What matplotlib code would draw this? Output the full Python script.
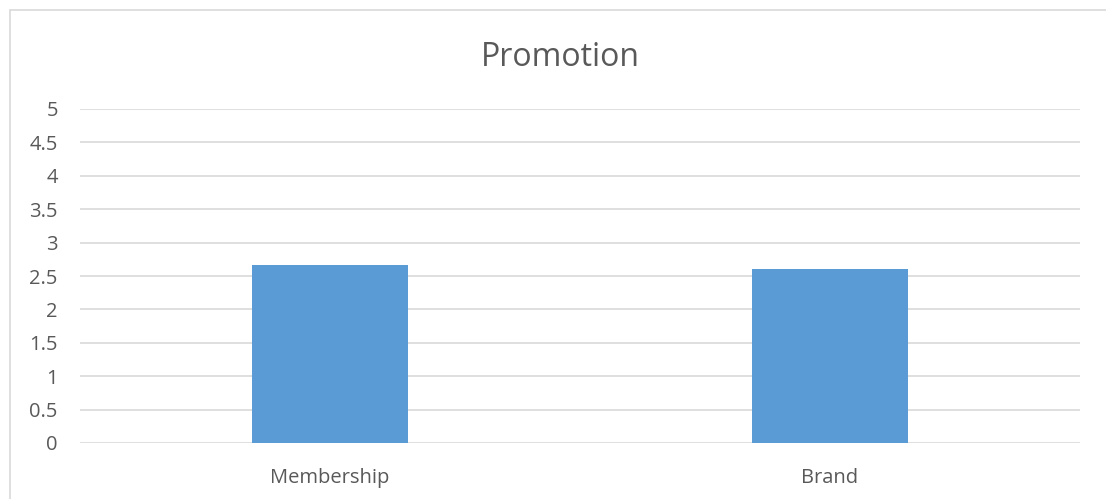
import matplotlib

matplotlib.use("Agg")
import matplotlib.pyplot as plt
from matplotlib.patches import Rectangle

categories = ["Membership", "Brand"]
values = [2.66, 2.60]
title = "Promotion"

W, H = 1106, 499
fig = plt.figure(figsize=(W / 100, H / 100), dpi=100)
plt.rcParams["font.family"] = ["Open Sans", "DejaVu Sans"]

# plot area in pixels: x 80..1080, y 109..443
ax = fig.add_axes([80 / W, 1 - 443 / H, 1000 / W, (443 - 109) / H])
x = range(len(categories))
ax.bar(x, values, width=0.313, color="#5b9bd5", zorder=3)
ax.set_xlim(-0.5, len(categories) - 0.5)
ax.set_ylim(0, 5)
ax.set_yticks([0, 0.5, 1, 1.5, 2, 2.5, 3, 3.5, 4, 4.5, 5])
ax.set_yticklabels(["0", "0.5", "1", "1.5", "2", "2.5", "3", "3.5", "4", "4.5", "5"])
ax.set_xticks(list(x))
ax.set_xticklabels(categories)
ax.grid(axis="y", color="#d9d9d9", lw=1.2, zorder=0)
for s in ax.spines.values():
    s.set_visible(False)
ax.tick_params(length=0, labelsize=14.5, colors="#595959")
ax.tick_params(axis="y", pad=16)
ax.tick_params(axis="x", pad=18)

fig.text(560 / W, 1 - 57 / H, title, ha="center", va="center", fontsize=23, color="#595959")

# outer chart frame
fig.patches.append(Rectangle((10 / W, -0.1), 1.2, 1 - 10 / H + 0.1, transform=fig.transFigure,
                             fill=False, edgecolor="#d9d9d9", lw=1.2))

fig.savefig("out.png", dpi=100)
